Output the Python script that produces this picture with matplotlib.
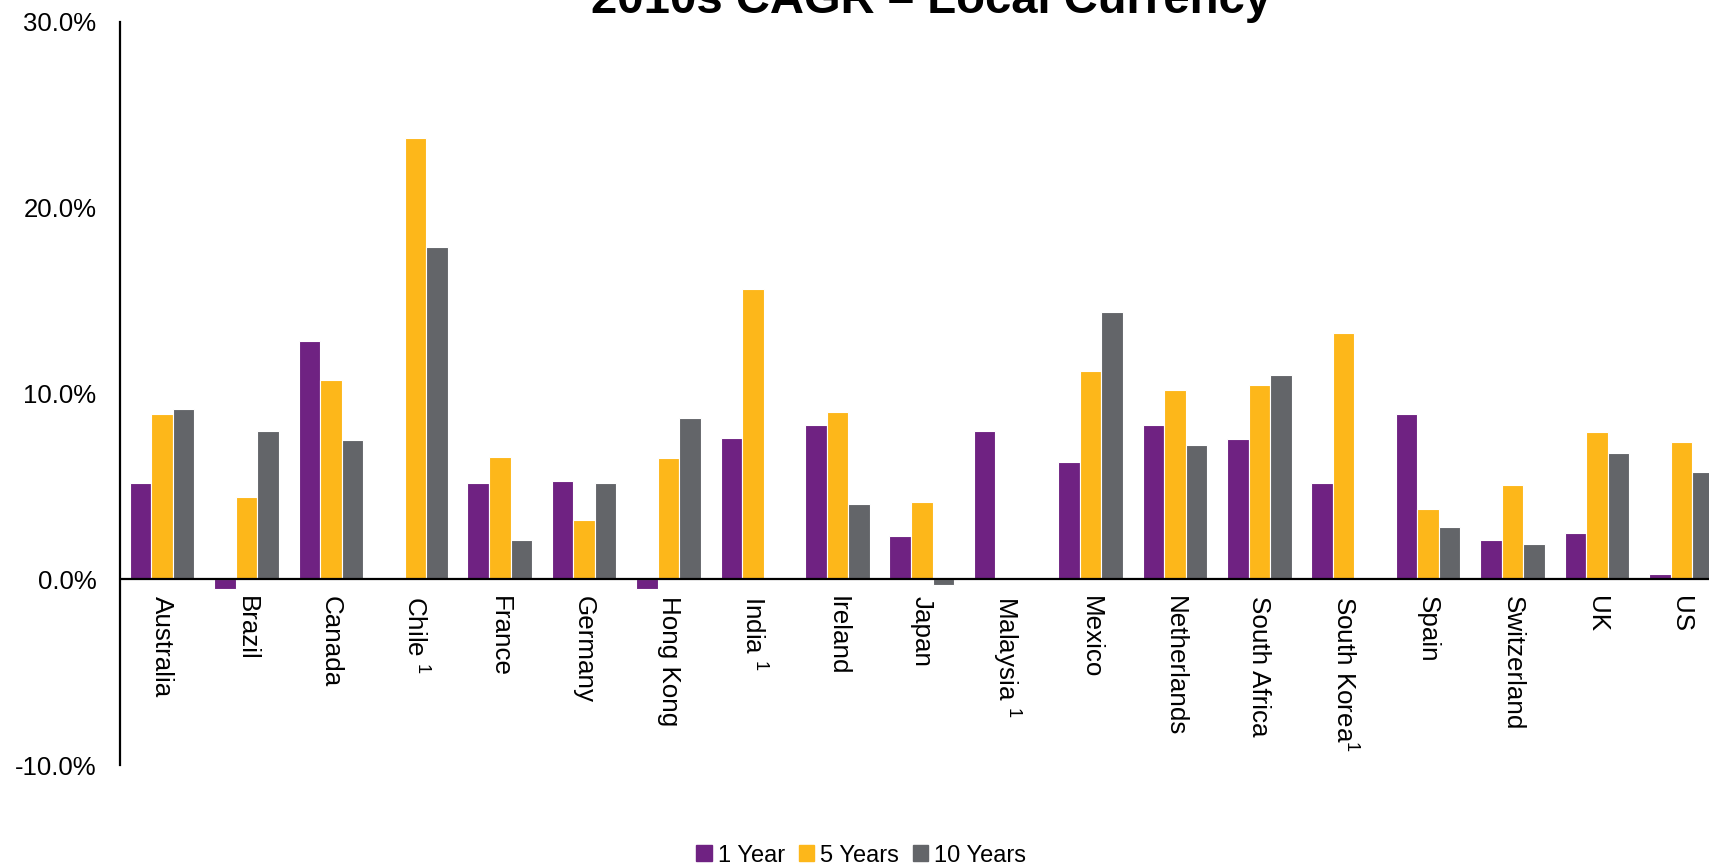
import numpy as np
import matplotlib.pyplot as plt
from matplotlib.patches import Patch

plt.rcParams['font.family'] = ['Liberation Sans', 'DejaVu Sans']
plt.rcParams['mathtext.fontset'] = 'custom'
plt.rcParams['mathtext.rm'] = 'Liberation Sans'
plt.rcParams['mathtext.it'] = 'Liberation Sans'

countries = ['Australia', 'Brazil', 'Canada', 'Chile $^{1}$', 'France', 'Germany',
             'Hong Kong', 'India $^{1}$', 'Ireland', 'Japan', 'Malaysia $^{1}$',
             'Mexico', 'Netherlands', 'South Africa', 'South Korea$^{1}$', 'Spain',
             'Switzerland', 'UK', 'US']

# CAGR in percent, nan where no history
one_year = [5.2, -0.5, 12.8, np.nan, 5.2, 5.3, -0.5, 7.6, 8.3, 2.35,
            8.0, 6.3, 8.3, 7.55, 5.2, 8.9, 2.1, 2.5, 0.3]
five_years = [8.9, 4.4, 10.7, 23.75, 6.6, 3.2, 6.5, 15.6, 9.0, 4.15,
              np.nan, 11.2, 10.2, 10.45, 13.25, 3.8, 5.05, 7.9, 7.4]
ten_years = [9.15, 8.0, 7.5, 17.9, 2.1, 5.2, 8.7, np.nan, 4.05, -0.3,
             np.nan, 14.4, 7.2, 11.0, np.nan, 2.8, 1.9, 6.8, 5.75]

series = [('1 Year', one_year, '#6F2282'),
          ('5 Years', five_years, '#FDB71A'),
          ('10 Years', ten_years, '#636569')]

fig = plt.figure(figsize=(17.09, 8.66), dpi=100)
ax = fig.add_axes([0.0702, 0.1166, 0.9383, 0.8582])

x = np.arange(len(countries))
w = 0.255
for k, (name, vals, col) in enumerate(series):
    ax.bar(x + (k - 1) * w, vals, width=w, color=col, edgecolor='white',
           linewidth=0.8, label=name)

ax.axhline(0, color='black', lw=1.6, zorder=3)
ax.set_xlim(-0.5, len(countries) - 0.5)
ax.set_ylim(-10, 30)
ax.set_yticks([-10, 0, 10, 20, 30])
ax.set_yticklabels([f'{v:.1f}%' for v in [-10, 0, 10, 20, 30]], fontsize=18.5)
ax.tick_params(axis='y', length=0, pad=17)
ax.set_xticks([])

for s in ['top', 'right', 'bottom']:
    ax.spines[s].set_visible(False)
ax.spines['left'].set_linewidth(1.6)

for i, c in enumerate(countries):
    ax.annotate(c, (i, 0), xytext=(0, -12), textcoords='offset points',
                rotation=-90, ha='center', va='top', fontsize=18.7)

fig.text(0.545, 0.985, '2010s CAGR \u2013 Local Currency', ha='center',
         va='baseline', fontsize=34, fontweight='bold')

handles = [Patch(color=col, label=name) for name, _, col in series]
fig.legend(handles=handles, loc='center', bbox_to_anchor=(0.504, 0.012),
           ncol=3, frameon=False, fontsize=17, handlelength=0.65,
           handleheight=0.65, handletextpad=0.25, columnspacing=0.6)

fig.savefig('out.png', dpi=100)
